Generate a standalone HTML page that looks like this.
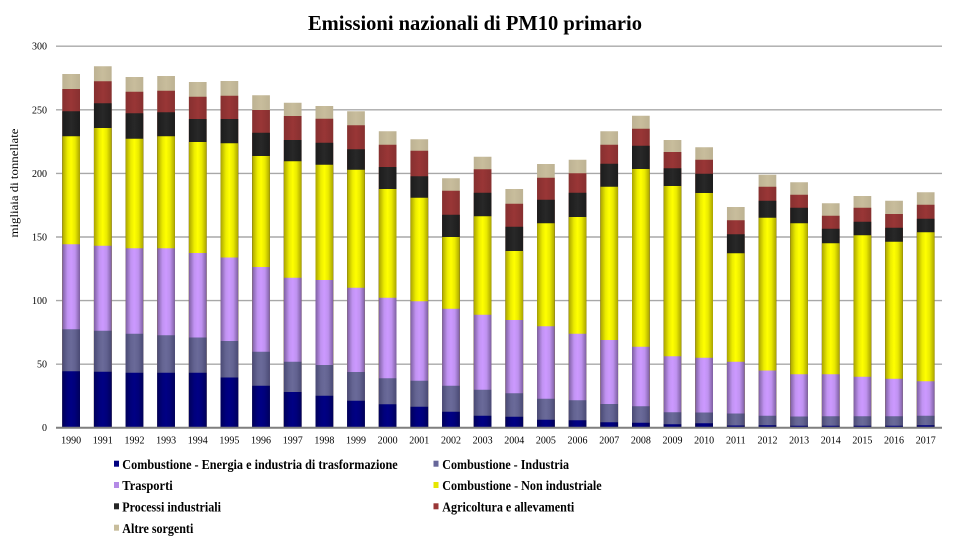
<!DOCTYPE html>
<html><head><meta charset="utf-8"><style>
html,body{margin:0;padding:0;background:#fff;overflow:hidden;width:956px;height:548px;}
svg{display:block;overflow:hidden;}
text{font-family:"Liberation Serif",serif;fill:#000;}
</style></head><body>
<svg width="956" height="548" viewBox="0 0 956 548" xmlns="http://www.w3.org/2000/svg">
<defs>
<linearGradient id="y" x1="0" x2="1" y1="0" y2="0"><stop offset="0" stop-color="#a9a300"/><stop offset="0.3" stop-color="#ecec00"/><stop offset="0.5" stop-color="#ffff00"/><stop offset="0.72" stop-color="#eaea00"/><stop offset="1" stop-color="#a9a300"/></linearGradient>
<linearGradient id="l" x1="0" x2="1" y1="0" y2="0"><stop offset="0" stop-color="#7d5fa0"/><stop offset="0.3" stop-color="#c193f2"/><stop offset="0.5" stop-color="#cc99ff"/><stop offset="0.72" stop-color="#bf92f0"/><stop offset="1" stop-color="#7d5fa0"/></linearGradient>
<linearGradient id="s" x1="0" x2="1" y1="0" y2="0"><stop offset="0" stop-color="#4a4a74"/><stop offset="0.3" stop-color="#646492"/><stop offset="0.5" stop-color="#6a6a99"/><stop offset="0.72" stop-color="#626290"/><stop offset="1" stop-color="#4a4a74"/></linearGradient>
<linearGradient id="n" x1="0" x2="1" y1="0" y2="0"><stop offset="0" stop-color="#00005a"/><stop offset="0.3" stop-color="#00007c"/><stop offset="0.5" stop-color="#000084"/><stop offset="0.72" stop-color="#00007a"/><stop offset="1" stop-color="#00005a"/></linearGradient>
<linearGradient id="k" x1="0" x2="1" y1="0" y2="0"><stop offset="0" stop-color="#1c1c1c"/><stop offset="0.5" stop-color="#282828"/><stop offset="1" stop-color="#1c1c1c"/></linearGradient>
<linearGradient id="r" x1="0" x2="1" y1="0" y2="0"><stop offset="0" stop-color="#873030"/><stop offset="0.5" stop-color="#993636"/><stop offset="1" stop-color="#873030"/></linearGradient>
<linearGradient id="a" x1="0" x2="1" y1="0" y2="0"><stop offset="0" stop-color="#bdb293"/><stop offset="0.5" stop-color="#c8bd9c"/><stop offset="1" stop-color="#bdb293"/></linearGradient>
</defs>

<!-- title -->
<text x="475" y="30" text-anchor="middle" font-size="21" font-weight="bold" textLength="334" lengthAdjust="spacingAndGlyphs">Emissioni nazionali di PM10 primario</text>

<!-- gridlines -->
<g stroke="#a8a8a8" stroke-width="1.4">
<line x1="56" x2="942" y1="46.2" y2="46.2"/>
<line x1="56" x2="942" y1="109.8" y2="109.8"/>
<line x1="56" x2="942" y1="173.4" y2="173.4"/>
<line x1="56" x2="942" y1="237" y2="237"/>
<line x1="56" x2="942" y1="300.6" y2="300.6"/>
<line x1="56" x2="942" y1="364.2" y2="364.2"/>
</g>

<!-- y labels -->
<g font-size="10" text-anchor="end">
<text x="47" y="49.7">300</text>
<text x="47" y="113.3">250</text>
<text x="47" y="176.9">200</text>
<text x="47" y="240.5">150</text>
<text x="47" y="304.1">100</text>
<text x="47" y="367.7">50</text>
<text x="47" y="431.2">0</text>
</g>

<text transform="translate(18 183) rotate(-90)" text-anchor="middle" font-size="12" textLength="109" lengthAdjust="spacingAndGlyphs">migliaia di tonnellate</text>

<!-- bars -->
<g>
<g transform="translate(62.3 0)"><path d="M0 74H17.7V427H0z" fill="url(#a)"/><path d="M0 89H17.7V427H0z" fill="url(#r)"/><path d="M0 111.3H17.7V427H0z" fill="url(#k)"/><path d="M0 136.3H17.7V427H0z" fill="url(#y)"/><path d="M0 244.3H17.7V427H0z" fill="url(#l)"/><path d="M0 329.3H17.7V427H0z" fill="url(#s)"/><path d="M0 371.3H17.7V427H0z" fill="url(#n)"/></g>
<g transform="translate(93.95 0)"><path d="M0 66.3H17.7V427H0z" fill="url(#a)"/><path d="M0 81.3H17.7V427H0z" fill="url(#r)"/><path d="M0 103.3H17.7V427H0z" fill="url(#k)"/><path d="M0 128H17.7V427H0z" fill="url(#y)"/><path d="M0 245.7H17.7V427H0z" fill="url(#l)"/><path d="M0 330.7H17.7V427H0z" fill="url(#s)"/><path d="M0 371.7H17.7V427H0z" fill="url(#n)"/></g>
<g transform="translate(125.6 0)"><path d="M0 77H17.7V427H0z" fill="url(#a)"/><path d="M0 91.7H17.7V427H0z" fill="url(#r)"/><path d="M0 113.3H17.7V427H0z" fill="url(#k)"/><path d="M0 138.7H17.7V427H0z" fill="url(#y)"/><path d="M0 248.3H17.7V427H0z" fill="url(#l)"/><path d="M0 333.7H17.7V427H0z" fill="url(#s)"/><path d="M0 372.7H17.7V427H0z" fill="url(#n)"/></g>
<g transform="translate(157.25 0)"><path d="M0 76H17.7V427H0z" fill="url(#a)"/><path d="M0 90.7H17.7V427H0z" fill="url(#r)"/><path d="M0 112.3H17.7V427H0z" fill="url(#k)"/><path d="M0 136.3H17.7V427H0z" fill="url(#y)"/><path d="M0 248.3H17.7V427H0z" fill="url(#l)"/><path d="M0 335.3H17.7V427H0z" fill="url(#s)"/><path d="M0 372.7H17.7V427H0z" fill="url(#n)"/></g>
<g transform="translate(188.9 0)"><path d="M0 82H17.7V427H0z" fill="url(#a)"/><path d="M0 96.7H17.7V427H0z" fill="url(#r)"/><path d="M0 119H17.7V427H0z" fill="url(#k)"/><path d="M0 142H17.7V427H0z" fill="url(#y)"/><path d="M0 253H17.7V427H0z" fill="url(#l)"/><path d="M0 337.5H17.7V427H0z" fill="url(#s)"/><path d="M0 372.7H17.7V427H0z" fill="url(#n)"/></g>
<g transform="translate(220.55 0)"><path d="M0 81H17.7V427H0z" fill="url(#a)"/><path d="M0 95.7H17.7V427H0z" fill="url(#r)"/><path d="M0 119H17.7V427H0z" fill="url(#k)"/><path d="M0 143.3H17.7V427H0z" fill="url(#y)"/><path d="M0 257.5H17.7V427H0z" fill="url(#l)"/><path d="M0 341H17.7V427H0z" fill="url(#s)"/><path d="M0 377.5H17.7V427H0z" fill="url(#n)"/></g>
<g transform="translate(252.2 0)"><path d="M0 95.3H17.7V427H0z" fill="url(#a)"/><path d="M0 110H17.7V427H0z" fill="url(#r)"/><path d="M0 132.7H17.7V427H0z" fill="url(#k)"/><path d="M0 156H17.7V427H0z" fill="url(#y)"/><path d="M0 267H17.7V427H0z" fill="url(#l)"/><path d="M0 351.7H17.7V427H0z" fill="url(#s)"/><path d="M0 385.7H17.7V427H0z" fill="url(#n)"/></g>
<g transform="translate(283.85 0)"><path d="M0 102.7H17.7V427H0z" fill="url(#a)"/><path d="M0 116H17.7V427H0z" fill="url(#r)"/><path d="M0 140H17.7V427H0z" fill="url(#k)"/><path d="M0 161.3H17.7V427H0z" fill="url(#y)"/><path d="M0 277.7H17.7V427H0z" fill="url(#l)"/><path d="M0 361.7H17.7V427H0z" fill="url(#s)"/><path d="M0 392H17.7V427H0z" fill="url(#n)"/></g>
<g transform="translate(315.5 0)"><path d="M0 106H17.7V427H0z" fill="url(#a)"/><path d="M0 118.7H17.7V427H0z" fill="url(#r)"/><path d="M0 142.7H17.7V427H0z" fill="url(#k)"/><path d="M0 164.7H17.7V427H0z" fill="url(#y)"/><path d="M0 280H17.7V427H0z" fill="url(#l)"/><path d="M0 365H17.7V427H0z" fill="url(#s)"/><path d="M0 395.7H17.7V427H0z" fill="url(#n)"/></g>
<g transform="translate(347.15 0)"><path d="M0 111.3H17.7V427H0z" fill="url(#a)"/><path d="M0 125.3H17.7V427H0z" fill="url(#r)"/><path d="M0 149.3H17.7V427H0z" fill="url(#k)"/><path d="M0 169.7H17.7V427H0z" fill="url(#y)"/><path d="M0 287.7H17.7V427H0z" fill="url(#l)"/><path d="M0 372H17.7V427H0z" fill="url(#s)"/><path d="M0 400.7H17.7V427H0z" fill="url(#n)"/></g>
<g transform="translate(378.8 0)"><path d="M0 131.3H17.7V427H0z" fill="url(#a)"/><path d="M0 144.7H17.7V427H0z" fill="url(#r)"/><path d="M0 167H17.7V427H0z" fill="url(#k)"/><path d="M0 189H17.7V427H0z" fill="url(#y)"/><path d="M0 297.7H17.7V427H0z" fill="url(#l)"/><path d="M0 378.3H17.7V427H0z" fill="url(#s)"/><path d="M0 404.3H17.7V427H0z" fill="url(#n)"/></g>
<g transform="translate(410.45 0)"><path d="M0 139.3H17.7V427H0z" fill="url(#a)"/><path d="M0 150.7H17.7V427H0z" fill="url(#r)"/><path d="M0 176.3H17.7V427H0z" fill="url(#k)"/><path d="M0 197.7H17.7V427H0z" fill="url(#y)"/><path d="M0 301.3H17.7V427H0z" fill="url(#l)"/><path d="M0 380.7H17.7V427H0z" fill="url(#s)"/><path d="M0 406.7H17.7V427H0z" fill="url(#n)"/></g>
<g transform="translate(442.1 0)"><path d="M0 178.3H17.7V427H0z" fill="url(#a)"/><path d="M0 190.7H17.7V427H0z" fill="url(#r)"/><path d="M0 214.7H17.7V427H0z" fill="url(#k)"/><path d="M0 237H17.7V427H0z" fill="url(#y)"/><path d="M0 308.7H17.7V427H0z" fill="url(#l)"/><path d="M0 385.7H17.7V427H0z" fill="url(#s)"/><path d="M0 411.7H17.7V427H0z" fill="url(#n)"/></g>
<g transform="translate(473.75 0)"><path d="M0 156.7H17.7V427H0z" fill="url(#a)"/><path d="M0 169.3H17.7V427H0z" fill="url(#r)"/><path d="M0 192.7H17.7V427H0z" fill="url(#k)"/><path d="M0 216.3H17.7V427H0z" fill="url(#y)"/><path d="M0 314.7H17.7V427H0z" fill="url(#l)"/><path d="M0 389.7H17.7V427H0z" fill="url(#s)"/><path d="M0 415.7H17.7V427H0z" fill="url(#n)"/></g>
<g transform="translate(505.4 0)"><path d="M0 189H17.7V427H0z" fill="url(#a)"/><path d="M0 203.7H17.7V427H0z" fill="url(#r)"/><path d="M0 226.7H17.7V427H0z" fill="url(#k)"/><path d="M0 251H17.7V427H0z" fill="url(#y)"/><path d="M0 320H17.7V427H0z" fill="url(#l)"/><path d="M0 393.3H17.7V427H0z" fill="url(#s)"/><path d="M0 416.7H17.7V427H0z" fill="url(#n)"/></g>
<g transform="translate(537.05 0)"><path d="M0 164H17.7V427H0z" fill="url(#a)"/><path d="M0 177.7H17.7V427H0z" fill="url(#r)"/><path d="M0 199.7H17.7V427H0z" fill="url(#k)"/><path d="M0 223.3H17.7V427H0z" fill="url(#y)"/><path d="M0 326.3H17.7V427H0z" fill="url(#l)"/><path d="M0 398.7H17.7V427H0z" fill="url(#s)"/><path d="M0 419.7H17.7V427H0z" fill="url(#n)"/></g>
<g transform="translate(568.7 0)"><path d="M0 159.7H17.7V427H0z" fill="url(#a)"/><path d="M0 173.3H17.7V427H0z" fill="url(#r)"/><path d="M0 192.7H17.7V427H0z" fill="url(#k)"/><path d="M0 217H17.7V427H0z" fill="url(#y)"/><path d="M0 333.7H17.7V427H0z" fill="url(#l)"/><path d="M0 400.3H17.7V427H0z" fill="url(#s)"/><path d="M0 420.3H17.7V427H0z" fill="url(#n)"/></g>
<g transform="translate(600.35 0)"><path d="M0 131.3H17.7V427H0z" fill="url(#a)"/><path d="M0 144.7H17.7V427H0z" fill="url(#r)"/><path d="M0 163.7H17.7V427H0z" fill="url(#k)"/><path d="M0 186.7H17.7V427H0z" fill="url(#y)"/><path d="M0 340H17.7V427H0z" fill="url(#l)"/><path d="M0 404H17.7V427H0z" fill="url(#s)"/><path d="M0 422.3H17.7V427H0z" fill="url(#n)"/></g>
<g transform="translate(632 0)"><path d="M0 115.7H17.7V427H0z" fill="url(#a)"/><path d="M0 128.7H17.7V427H0z" fill="url(#r)"/><path d="M0 145.7H17.7V427H0z" fill="url(#k)"/><path d="M0 169H17.7V427H0z" fill="url(#y)"/><path d="M0 346.7H17.7V427H0z" fill="url(#l)"/><path d="M0 406.3H17.7V427H0z" fill="url(#s)"/><path d="M0 422.7H17.7V427H0z" fill="url(#n)"/></g>
<g transform="translate(663.65 0)"><path d="M0 140H17.7V427H0z" fill="url(#a)"/><path d="M0 152H17.7V427H0z" fill="url(#r)"/><path d="M0 168.3H17.7V427H0z" fill="url(#k)"/><path d="M0 186H17.7V427H0z" fill="url(#y)"/><path d="M0 356.3H17.7V427H0z" fill="url(#l)"/><path d="M0 412.3H17.7V427H0z" fill="url(#s)"/><path d="M0 424.3H17.7V427H0z" fill="url(#n)"/></g>
<g transform="translate(695.3 0)"><path d="M0 147.3H17.7V427H0z" fill="url(#a)"/><path d="M0 159.7H17.7V427H0z" fill="url(#r)"/><path d="M0 173.7H17.7V427H0z" fill="url(#k)"/><path d="M0 193H17.7V427H0z" fill="url(#y)"/><path d="M0 357.7H17.7V427H0z" fill="url(#l)"/><path d="M0 412.5H17.7V427H0z" fill="url(#s)"/><path d="M0 423.3H17.7V427H0z" fill="url(#n)"/></g>
<g transform="translate(726.95 0)"><path d="M0 207H17.7V427H0z" fill="url(#a)"/><path d="M0 220.3H17.7V427H0z" fill="url(#r)"/><path d="M0 234.3H17.7V427H0z" fill="url(#k)"/><path d="M0 253.3H17.7V427H0z" fill="url(#y)"/><path d="M0 361.7H17.7V427H0z" fill="url(#l)"/><path d="M0 413.5H17.7V427H0z" fill="url(#s)"/><path d="M0 425.5H17.7V427H0z" fill="url(#n)"/></g>
<g transform="translate(758.6 0)"><path d="M0 174.7H17.7V427H0z" fill="url(#a)"/><path d="M0 186.7H17.7V427H0z" fill="url(#r)"/><path d="M0 200.7H17.7V427H0z" fill="url(#k)"/><path d="M0 217.7H17.7V427H0z" fill="url(#y)"/><path d="M0 370.5H17.7V427H0z" fill="url(#l)"/><path d="M0 415.7H17.7V427H0z" fill="url(#s)"/><path d="M0 425.2H17.7V427H0z" fill="url(#n)"/></g>
<g transform="translate(790.25 0)"><path d="M0 182.3H17.7V427H0z" fill="url(#a)"/><path d="M0 194.7H17.7V427H0z" fill="url(#r)"/><path d="M0 207.7H17.7V427H0z" fill="url(#k)"/><path d="M0 223.2H17.7V427H0z" fill="url(#y)"/><path d="M0 374.3H17.7V427H0z" fill="url(#l)"/><path d="M0 416.5H17.7V427H0z" fill="url(#s)"/><path d="M0 425.7H17.7V427H0z" fill="url(#n)"/></g>
<g transform="translate(821.9 0)"><path d="M0 203.3H17.7V427H0z" fill="url(#a)"/><path d="M0 215.7H17.7V427H0z" fill="url(#r)"/><path d="M0 228.7H17.7V427H0z" fill="url(#k)"/><path d="M0 243.3H17.7V427H0z" fill="url(#y)"/><path d="M0 374.3H17.7V427H0z" fill="url(#l)"/><path d="M0 416.3H17.7V427H0z" fill="url(#s)"/><path d="M0 425.7H17.7V427H0z" fill="url(#n)"/></g>
<g transform="translate(853.55 0)"><path d="M0 196H17.7V427H0z" fill="url(#a)"/><path d="M0 207.7H17.7V427H0z" fill="url(#r)"/><path d="M0 221.7H17.7V427H0z" fill="url(#k)"/><path d="M0 235.3H17.7V427H0z" fill="url(#y)"/><path d="M0 376.7H17.7V427H0z" fill="url(#l)"/><path d="M0 416.3H17.7V427H0z" fill="url(#s)"/><path d="M0 425.7H17.7V427H0z" fill="url(#n)"/></g>
<g transform="translate(885.2 0)"><path d="M0 200.7H17.7V427H0z" fill="url(#a)"/><path d="M0 214H17.7V427H0z" fill="url(#r)"/><path d="M0 227.7H17.7V427H0z" fill="url(#k)"/><path d="M0 241.7H17.7V427H0z" fill="url(#y)"/><path d="M0 378.7H17.7V427H0z" fill="url(#l)"/><path d="M0 416.3H17.7V427H0z" fill="url(#s)"/><path d="M0 425.7H17.7V427H0z" fill="url(#n)"/></g>
<g transform="translate(916.85 0)"><path d="M0 192.3H17.7V427H0z" fill="url(#a)"/><path d="M0 204.7H17.7V427H0z" fill="url(#r)"/><path d="M0 218.7H17.7V427H0z" fill="url(#k)"/><path d="M0 232.3H17.7V427H0z" fill="url(#y)"/><path d="M0 381.3H17.7V427H0z" fill="url(#l)"/><path d="M0 415.7H17.7V427H0z" fill="url(#s)"/><path d="M0 425.3H17.7V427H0z" fill="url(#n)"/></g>
</g>

<!-- x axis -->
<line x1="56" x2="942" y1="427.7" y2="427.7" stroke="#7f7f7f" stroke-width="2"/>

<!-- x labels -->
<g font-size="10" text-anchor="middle">
<text x="71.15" y="443.5">1990</text>
<text x="102.8" y="443.5">1991</text>
<text x="134.45" y="443.5">1992</text>
<text x="166.1" y="443.5">1993</text>
<text x="197.75" y="443.5">1994</text>
<text x="229.4" y="443.5">1995</text>
<text x="261.05" y="443.5">1996</text>
<text x="292.7" y="443.5">1997</text>
<text x="324.35" y="443.5">1998</text>
<text x="356" y="443.5">1999</text>
<text x="387.65" y="443.5">2000</text>
<text x="419.3" y="443.5">2001</text>
<text x="450.95" y="443.5">2002</text>
<text x="482.6" y="443.5">2003</text>
<text x="514.25" y="443.5">2004</text>
<text x="545.9" y="443.5">2005</text>
<text x="577.55" y="443.5">2006</text>
<text x="609.2" y="443.5">2007</text>
<text x="640.85" y="443.5">2008</text>
<text x="672.5" y="443.5">2009</text>
<text x="704.15" y="443.5">2010</text>
<text x="735.8" y="443.5">2011</text>
<text x="767.45" y="443.5">2012</text>
<text x="799.1" y="443.5">2013</text>
<text x="830.75" y="443.5">2014</text>
<text x="862.4" y="443.5">2015</text>
<text x="894.05" y="443.5">2016</text>
<text x="925.7" y="443.5">2017</text>
</g>

<!-- legend -->
<g font-size="13.5" font-weight="bold">
<rect x="114" y="460.7" width="5" height="6" fill="#000080"/>
<text x="122.3" y="468.8" textLength="275.4" lengthAdjust="spacingAndGlyphs">Combustione - Energia e industria di trasformazione</text>
<rect x="433.5" y="460.7" width="5" height="6" fill="#666699"/>
<text x="442.3" y="468.8" textLength="126.7" lengthAdjust="spacingAndGlyphs">Combustione - Industria</text>

<rect x="114" y="482" width="5" height="6" fill="#b48ae6"/>
<text x="122.3" y="490.1" textLength="50.4" lengthAdjust="spacingAndGlyphs">Trasporti</text>
<rect x="433.5" y="482" width="5" height="6" fill="#e6e600"/>
<text x="442.3" y="490.1" textLength="159.4" lengthAdjust="spacingAndGlyphs">Combustione - Non industriale</text>

<rect x="114" y="503.3" width="5" height="6" fill="#262626"/>
<text x="122.3" y="511.4" textLength="98.7" lengthAdjust="spacingAndGlyphs">Processi industriali</text>
<rect x="433.5" y="503.3" width="5" height="6" fill="#993636"/>
<text x="442.3" y="511.4" textLength="132" lengthAdjust="spacingAndGlyphs">Agricoltura e allevamenti</text>

<rect x="114" y="524.7" width="5" height="6" fill="#c8bd9c"/>
<text x="122.3" y="532.8" textLength="71" lengthAdjust="spacingAndGlyphs">Altre sorgenti</text>
</g>
</svg>
</body></html>
